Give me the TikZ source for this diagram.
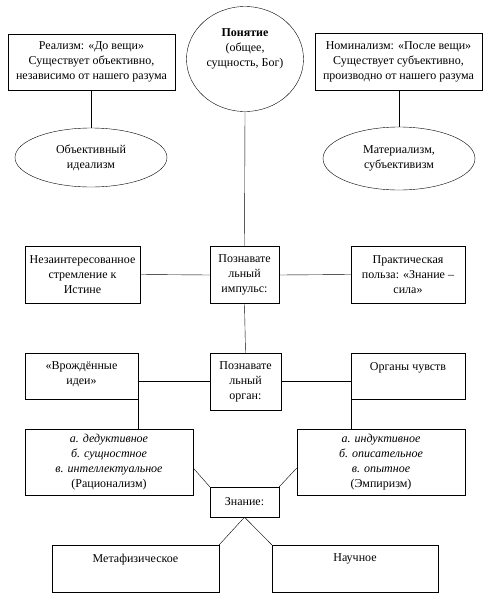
\documentclass[tikz,border=0pt]{standalone}
\usepackage{fontspec}
\setmainfont{Liberation Serif}
\usetikzlibrary{shapes.geometric}

\begin{document}
\begin{tikzpicture}[x=1pt,y=-1pt,font=\fontsize{12}{15}\selectfont,
  box/.style={draw,rectangle,align=center,inner sep=2pt},
  oval/.style={draw,ellipse,align=center,inner sep=1pt}]
\useasboundingbox (0,0) rectangle (490,600);
% top level
\node[oval,minimum width=117,minimum height=105,text depth=22pt] (concept) at (245,59)
  {\textbf{Понятие}\\(общее,\\сущность, Бог)};
\node[box,minimum width=167,minimum height=56] (realism) at (91.5,62)
  {Реализм: «До вещи»\\Существует объективно,\\независимо от нашего разума};
\node[box,minimum width=167,minimum height=57] (nominal) at (398.5,61.5)
  {Номинализм: «После вещи»\\Существует субъективно,\\производно от нашего разума};
\node[oval,minimum width=152,minimum height=59] (objid) at (91,157.5) {Объективный\\идеализм};
\node[oval,minimum width=152,minimum height=63] (mater) at (399,158.5) {Материализм,\\субъективизм};
% impulse row
\node[box,minimum width=69,minimum height=57] (impulse) at (244.5,275) {Познавате\\льный\\импульс:};
\node[box,minimum width=115,minimum height=57] (disint) at (82.5,274.5)
  {Незаинтересованное\\стремление к\\Истине};
\node[box,minimum width=114,minimum height=57] (practical) at (408,274.5)
  {Практическая\\польза: «Знание –\\сила»};
% organ row
\node[box,minimum width=71,minimum height=57] (organ) at (245.5,381.5) {Познавате\\льный\\орган:};
\node[box,minimum width=113,minimum height=46,text depth=6pt] (innate) at (81.5,376) {«Врождённые\\идеи»};
\node[box,minimum width=114,minimum height=46,text depth=18pt] (senses) at (408,376) {Органы чувств};
% knowledge
\node[box,minimum width=168,minimum height=66] (rational) at (109,462)
  {\textit{а. дедуктивное}\\\textit{б. сущностное}\\\textit{в. интеллектуальное}\\(Рационализм)};
\node[box,minimum width=168,minimum height=66] (empir) at (381,462)
  {\textit{а. индуктивное}\\\textit{б. описательное}\\\textit{в. опытное}\\(Эмпиризм)};
\node[box,minimum width=69,minimum height=30] (know) at (244.5,502) {Знание:};
\node[box,minimum width=167,minimum height=47,text depth=21pt] (meta) at (135.5,568.5) {Метафизическое};
\node[box,minimum width=166,minimum height=47,text depth=21pt] (sci) at (355,568.5) {Научное};
% connectors
\draw (objid.north) -- (objid.north |- realism.south);
\draw (mater.north) -- (mater.north |- nominal.south);
\draw (concept.south) -- (impulse.north);
\draw (disint.east) -- (impulse.west);
\draw (impulse.east) -- (practical.west);
\draw (impulse.south) -- (organ.north);
\draw (organ.west) -- (organ.west -| innate.east);
\draw (organ.east) -- (organ.east -| senses.west);
\draw (innate.south east) -- (innate.south east |- rational.north);
\draw (senses.south west) -- (senses.south west |- empir.north);
\draw ([yshift=-6pt]rational.east) -- (know.north west);
\draw ([yshift=-6pt]empir.west) -- (know.north east);
\draw (know.south) -- (meta.north east);
\draw (know.south) -- (sci.north west);
\end{tikzpicture}
\end{document}
